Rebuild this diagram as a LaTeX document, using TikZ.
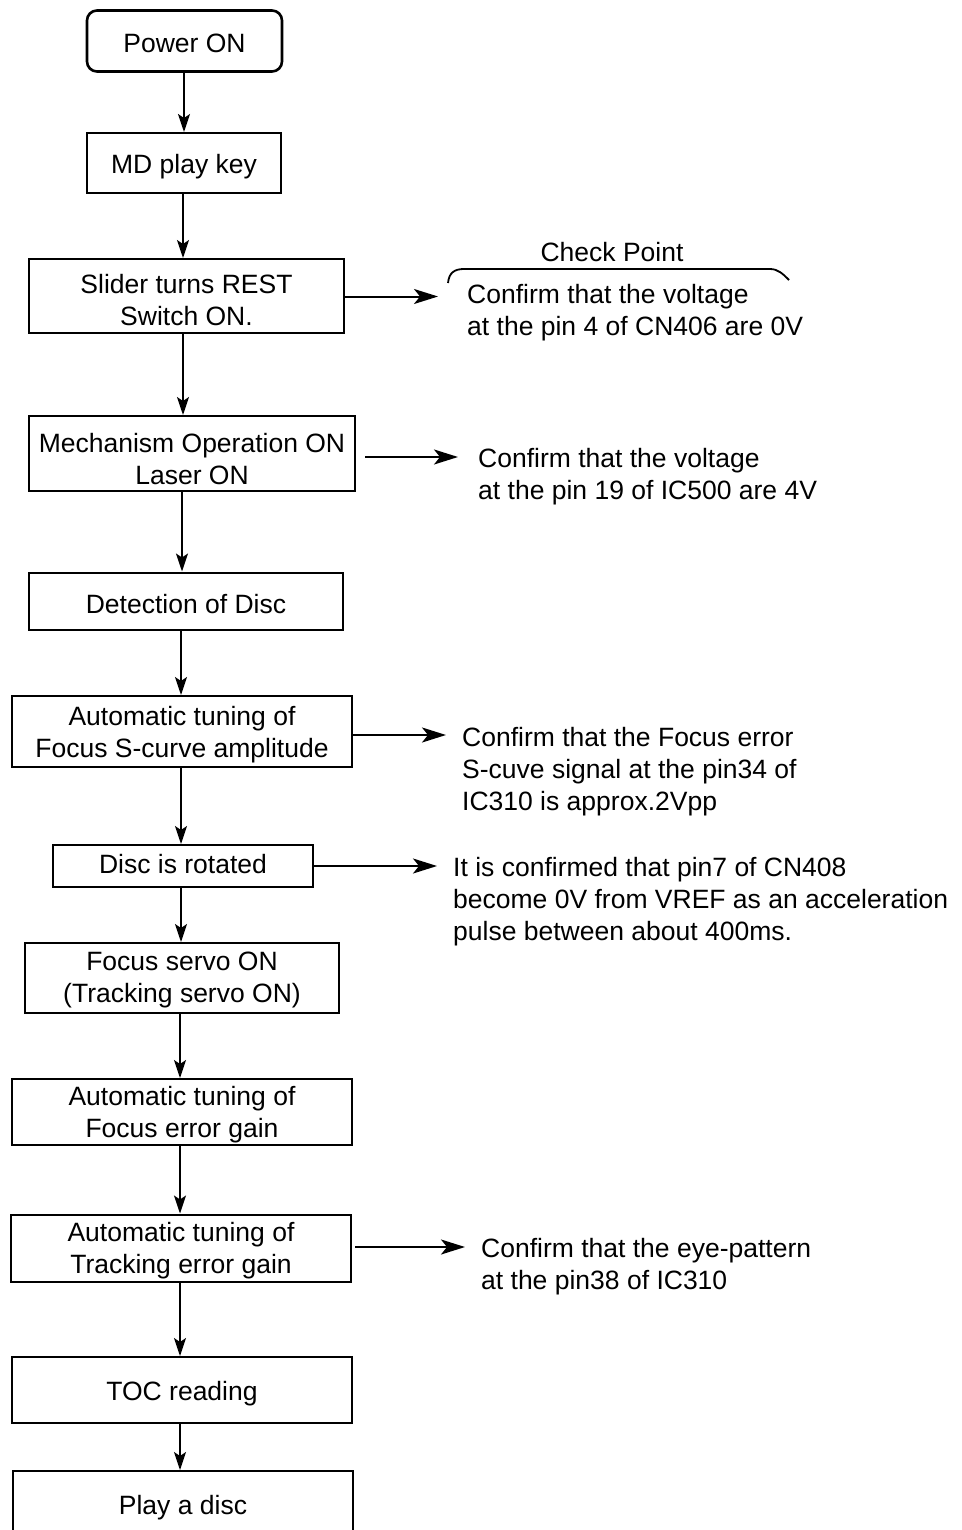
\documentclass[tikz,border=0pt]{standalone}
\usepackage{fontspec}
\setmainfont{Liberation Sans}
\usetikzlibrary{arrows.meta}
\newcommand\ctext[2][0pt]{\raisebox{\dimexpr-3.1pt-(#1)\relax}[\height][\depth]{\begin{tabular}{@{}c@{}}#2\end{tabular}}}
\newcommand\ltext[1]{\raisebox{-3.1pt}[\height][\depth]{\begin{tabular}{@{}l@{}}#1\end{tabular}}}
\begin{document}
\begin{tikzpicture}[x=1pt,y=-1pt,
  every node/.style={font=\fontsize{26.5}{32}\selectfont, inner sep=0pt},
  box/.style={draw, line width=2pt},
  note/.style={anchor=west},
  arr/.style={line width=1.8pt, -{Stealth[length=18pt,width=12pt,inset=4pt]}},
  harr/.style={line width=2pt, -{Stealth[length=24pt,width=15pt,inset=6pt]}}]
\clip (0,0) rectangle (961,1530);
\fill[white] (0,0) rectangle (961,1530);
% boxes
\node[box, rounded corners=10pt, line width=2.6pt, minimum width=195pt, minimum height=61pt] (power) at (184.5,41) {\ctext[2pt]{Power ON}};
\node[box, minimum width=194pt, minimum height=60pt] (md) at (184,163) {\ctext[1.5pt]{MD play key}};
\node[box, minimum width=315pt, minimum height=74pt] (slider) at (186.5,296) {\ctext[3.5pt]{Slider turns REST\\Switch ON.}};
\node[box, minimum width=326pt, minimum height=75pt] (mech) at (192,453.5) {\ctext[5.5pt]{Mechanism Operation ON\\Laser ON}};
\node[box, minimum width=314pt, minimum height=57pt] (det) at (186,601) {\ctext[2.5pt]{Detection of Disc}};
\node[box, minimum width=340pt, minimum height=71pt] (scurve) at (182,731.5) {\ctext{Automatic tuning of\\Focus S-curve amplitude}};
\node[box, minimum width=260pt, minimum height=42pt] (rot) at (183,866) {\ctext[-2pt]{Disc is rotated}};
\node[box, minimum width=314pt, minimum height=70pt] (fservo) at (182,978) {\ctext[-1.5pt]{Focus servo ON\\(Tracking servo ON)}};
\node[box, minimum width=340pt, minimum height=66pt] (fgain) at (182,1112) {\ctext{Automatic tuning of\\Focus error gain}};
\node[box, minimum width=340pt, minimum height=67pt] (tgain) at (181,1248) {\ctext{Automatic tuning of\\Tracking error gain}};
\node[box, minimum width=340pt, minimum height=66pt] (toc) at (182,1390) {\ctext[1pt]{TOC reading}};
\node[box, minimum width=340pt, minimum height=68pt] (play) at (183,1505) {\ctext{Play a disc}};
% vertical arrows
\draw[arr] (power.south -| 184,0) -- (md.north -| 184,0);
\draw[arr] (md.south -| 183,0) -- (slider.north -| 183,0);
\draw[arr] (slider.south -| 183,0) -- (mech.north -| 183,0);
\draw[arr] (mech.south -| 182,0) -- (det.north -| 182,0);
\draw[arr] (det.south -| 181,0) -- (scurve.north -| 181,0);
\draw[arr] (scurve.south -| 181,0) -- (rot.north -| 181,0);
\draw[arr] (rot.south -| 181,0) -- (fservo.north -| 181,0);
\draw[arr] (fservo.south -| 180,0) -- (fgain.north -| 180,0);
\draw[arr] (fgain.south -| 180,0) -- (tgain.north -| 180,0);
\draw[arr] (tgain.south -| 180,0) -- (toc.north -| 180,0);
\draw[arr] (toc.south -| 180,0) -- (play.north -| 180,0);
% check point
\node (cp) at (612,252) {\ctext{Check Point}};
\draw[line width=1.8pt] (448,283) .. controls (449,273) and (454,269) .. (464,269) -- (770,269) .. controls (778,269) and (783,274) .. (789,280);
% notes
\coordinate (e1) at (438,296.5);
\coordinate (e2) at (458,457);
\coordinate (e3) at (446,735);
\coordinate (e4) at (437,866);
\coordinate (e5) at (465,1247);
\draw[harr] (slider.east |- e1) -- (e1);
\draw[harr] (365,457) -- (e2);
\draw[harr] (scurve.east |- e3) -- (e3);
\draw[harr] (rot.east |- e4) -- (e4);
\draw[harr] (355,1247) -- (e5);
\node[note] (n1) at (467,310) {\ltext{Confirm that the voltage\\at the pin 4 of CN406 are 0V}};
\node[note] (n2) at (478,474) {\ltext{Confirm that the voltage\\at the pin 19 of IC500 are 4V}};
\node[note] (n3) at (462,768.5) {\ltext{Confirm that the Focus error\\S-cuve signal at the pin34 of\\IC310 is approx.2Vpp}};
\node[note] (n4) at (453,899) {\ltext{It is confirmed that pin7 of CN408\\become 0V from VREF as an acceleration\\pulse between about 400ms.}};
\node[note] (n5) at (481,1264) {\ltext{Confirm that the eye-pattern\\at the pin38 of IC310}};
\end{tikzpicture}
\end{document}
